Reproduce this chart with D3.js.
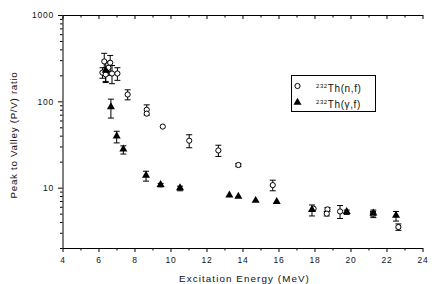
<!DOCTYPE html>
<html>
<head>
<meta charset="utf-8">
<script src="https://cdn.jsdelivr.net/npm/d3@7"></script>
<style>
  html, body { margin: 0; padding: 0; background: #fff; }
  svg { display: block; font-family: "Liberation Sans", Arial, sans-serif; }
</style>
</head>
<body>
<div id="chart"></div>
<script>
const width = 432;
const height = 284;

// 232Th(n,f)
const nfEnergy = [6.22, 6.32, 6.40, 6.55, 6.65, 6.75, 7.05, 7.62, 8.68, 8.68, 9.57, 11.04, 12.66, 13.77, 15.68, 17.95, 18.72, 18.68, 19.42, 21.25, 22.66];
const nfRatio = [215, 290, 205, 245, 280, 210, 210, 120, 80, 72, 51, 35, 27, 18.3, 10.7, 5.7, 5.6, 5.0, 5.3, 5.0, 3.5];
const nfError = [30, 70, 40, 45, 60, 50, 35, 16, 11, 0, 0, 6, 4, 0.8, 1.5, 0, 0.3, 0.3, 0.9, 0.3, 0.3];

// 232Th(gamma,f)
const gfEnergy = [6.40, 6.69, 7.01, 7.38, 8.64, 9.45, 10.53, 13.27, 13.77, 14.73, 15.9, 17.86, 19.79, 21.27, 22.53];
const gfRatio = [225, 85, 39, 27.5, 13.7, 10.7, 9.8, 8.1, 7.8, 7.0, 6.8, 5.5, 5.2, 5.0, 4.7];
const gfError = [55, 21, 6, 3, 1.8, 0.5, 0.6, 0, 0, 0, 0, 0.8, 0.3, 0.5, 0.6];

const xMajor = [4, 6, 8, 10, 12, 14, 16, 18, 20, 22, 24];
const xMinor = [5, 7, 9, 11, 13, 15, 17, 19, 21, 23];
const yMajor = [10, 100, 1000];
const yMinor = [2, 3, 4, 5, 6, 7, 8, 9, 20, 30, 40, 50, 60, 70, 80, 90, 200, 300, 400, 500, 600, 700, 800, 900];

const margin = { left: 62.5, right: 9.5, top: 15, bottom: 36 };

const x = d3.scaleLinear().domain([4, 24]).range([margin.left, width - margin.right]);
const y = d3.scaleLog().domain([2, 1000]).range([height - margin.bottom, margin.top]);

const svg = d3.select("#chart")
  .append("svg")
  .attr("width", width)
  .attr("height", height);

const nf = nfEnergy.map((e, i) => ({ e, v: nfRatio[i], err: nfError[i] }));
const gf = gfEnergy.map((e, i) => ({ e, v: gfRatio[i], err: gfError[i] }));

// axes
svg.append("g")
  .attr("transform", `translate(0,${y.range()[0]})`)
  .call(d3.axisBottom(x).tickValues(xMajor).tickSize(4).tickSizeOuter(0).tickPadding(5).tickFormat(d3.format("d")));
svg.append("g")
  .attr("transform", `translate(0,${y.range()[0]})`)
  .call(d3.axisBottom(x).tickValues(xMinor).tickSize(2.5).tickFormat(""))
  .call((g) => g.select(".domain").remove());

svg.append("g")
  .attr("transform", `translate(0,${y.range()[1]})`)
  .call(d3.axisBottom(x).tickValues(xMajor).tickSize(4).tickSizeOuter(0).tickFormat(""));
svg.append("g")
  .attr("transform", `translate(0,${y.range()[1]})`)
  .call(d3.axisBottom(x).tickValues(xMinor).tickSize(2.5).tickFormat(""))
  .call((g) => g.select(".domain").remove());

svg.append("g")
  .attr("transform", `translate(${x.range()[0]},0)`)
  .call(d3.axisLeft(y).tickValues(yMajor).tickSize(4.5).tickSizeOuter(0).tickPadding(4).tickFormat(d3.format("d")));
svg.append("g")
  .attr("transform", `translate(${x.range()[0]},0)`)
  .call(d3.axisLeft(y).tickValues(yMinor).tickSize(2.5).tickFormat(""))
  .call((g) => g.select(".domain").remove());

svg.selectAll(".tick text")
  .attr("font-size", 8.5)
  .attr("letter-spacing", 0.8)
  .attr("fill", "#111");
svg.selectAll(".domain, .tick line").attr("stroke", "#000").attr("stroke-width", 1);

// axis titles
svg.append("text")
  .attr("x", (x.range()[0] + x.range()[1]) / 2 + 2)
  .attr("y", 282)
  .attr("text-anchor", "middle")
  .attr("font-size", 9.8)
  .attr("letter-spacing", 1.1)
  .attr("fill", "#111")
  .text("Excitation Energy (MeV)");

svg.append("text")
  .attr("transform", `translate(17,135) rotate(-90)`)
  .attr("text-anchor", "middle")
  .attr("font-size", 9.8)
  .attr("letter-spacing", 0.7)
  .attr("fill", "#111")
  .text("Peak to Valley (P/V) ratio");

// error bars
function errorBars(data) {
  const g = svg.append("g").attr("stroke", "#000").attr("stroke-width", 1);
  const withErr = data.filter((d) => d.err > 0);
  g.selectAll("line.v").data(withErr).join("line")
    .attr("x1", (d) => x(d.e)).attr("x2", (d) => x(d.e))
    .attr("y1", (d) => y(d.v + d.err)).attr("y2", (d) => y(d.v - d.err));
  g.selectAll("line.t").data(withErr).join("line")
    .attr("x1", (d) => x(d.e) - 3).attr("x2", (d) => x(d.e) + 3)
    .attr("y1", (d) => y(d.v + d.err)).attr("y2", (d) => y(d.v + d.err));
  g.selectAll("line.b").data(withErr).join("line")
    .attr("x1", (d) => x(d.e) - 3).attr("x2", (d) => x(d.e) + 3)
    .attr("y1", (d) => y(d.v - d.err)).attr("y2", (d) => y(d.v - d.err));
}
errorBars(nf);
errorBars(gf);

const tri = d3.symbol().type(d3.symbolTriangle).size(28);

svg.append("g").selectAll("circle").data(nf).join("circle")
  .attr("cx", (d) => x(d.e))
  .attr("cy", (d) => y(d.v))
  .attr("r", 2.6)
  .attr("fill", "#fff")
  .attr("stroke", "#000")
  .attr("stroke-width", 1);

svg.append("g").selectAll("path").data(gf).join("path")
  .attr("d", tri)
  .attr("transform", (d) => `translate(${x(d.e)},${y(d.v) - 0.5})`)
  .attr("fill", "#000");

// legend
const legend = svg.append("g");
legend.append("rect")
  .attr("x", 291.5).attr("y", 75.5)
  .attr("width", 84).attr("height", 36)
  .attr("fill", "#fff").attr("stroke", "#000").attr("stroke-width", 1);
legend.append("circle")
  .attr("cx", 297.5).attr("cy", 86).attr("r", 2.6)
  .attr("fill", "#fff").attr("stroke", "#000");
legend.append("path")
  .attr("d", tri)
  .attr("transform", "translate(297.5,102.5)")
  .attr("fill", "#000");

const labels = [["(n,f)", 91.5], ["(\u03b3,f)", 107.5]];
labels.forEach(([r, yy]) => {
  const t = legend.append("text")
    .attr("x", 316)
    .attr("y", yy)
    .attr("font-size", 10)
    .attr("letter-spacing", 0.6)
    .attr("fill", "#111");
  t.append("tspan").attr("font-size", 6).attr("dy", -4).text("232");
  t.append("tspan").attr("dy", 4).text("Th" + r);
});
</script>
</body>
</html>
